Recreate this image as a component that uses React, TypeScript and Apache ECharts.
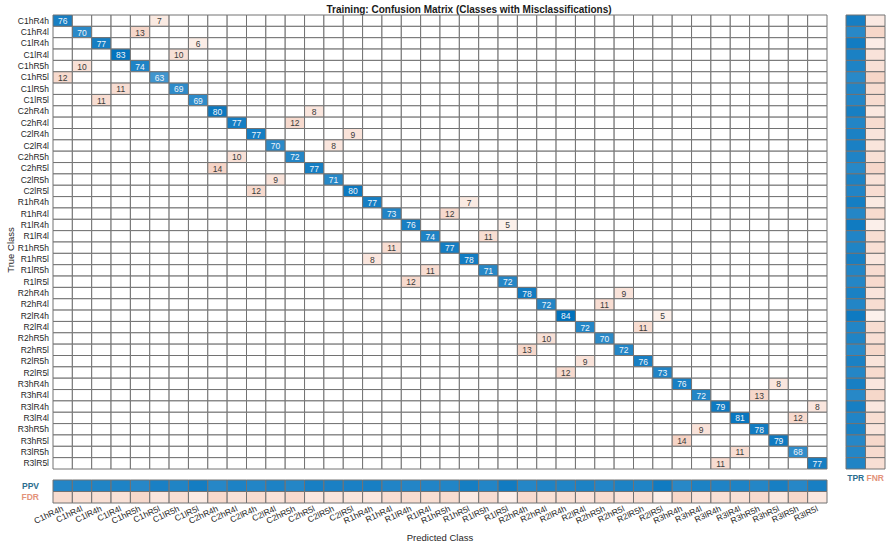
import { useEffect, useRef } from "react";
import * as echarts from "echarts";

// Class names (rows = true class, columns = predicted class)
const classes = [
  "C1hR4h", "C1hR4l", "C1lR4h", "C1lR4l", "C1hR5h", "C1hR5l", "C1lR5h", "C1lR5l",
  "C2hR4h", "C2hR4l", "C2lR4h", "C2lR4l", "C2hR5h", "C2hR5l", "C2lR5h", "C2lR5l",
  "R1hR4h", "R1hR4l", "R1lR4h", "R1lR4l", "R1hR5h", "R1hR5l", "R1lR5h", "R1lR5l",
  "R2hR4h", "R2hR4l", "R2lR4h", "R2lR4l", "R2hR5h", "R2hR5l", "R2lR5h", "R2lR5l",
  "R3hR4h", "R3hR4l", "R3lR4h", "R3lR4l", "R3hR5h", "R3hR5l", "R3lR5h", "R3lR5l",
];

// Correct predictions per class (diagonal)
const diagValues = [
  76, 70, 77, 83, 74, 63, 69, 69,
  80, 77, 77, 70, 72, 77, 71, 80,
  77, 73, 76, 74, 77, 78, 71, 72,
  78, 72, 84, 72, 70, 72, 76, 73,
  76, 72, 79, 81, 78, 79, 68, 77,
];

// The single misclassified column for each true class, and its count
const offCols = [
  5, 4, 7, 6, 1, 0, 3, 2,
  13, 12, 15, 14, 9, 8, 11, 10,
  21, 20, 23, 22, 17, 16, 19, 18,
  29, 28, 31, 30, 25, 24, 27, 26,
  37, 36, 39, 38, 33, 32, 35, 34,
];
const offValues = [
  7, 13, 6, 10, 10, 12, 11, 11,
  8, 12, 9, 8, 10, 14, 9, 12,
  7, 12, 5, 11, 11, 8, 11, 12,
  9, 11, 5, 11, 10, 13, 9, 12,
  8, 13, 8, 12, 9, 14, 11, 11,
];

const rowSummaryLabels = ["TPR", "FNR"];
const colSummaryLabels = ["PPV", "FDR"];

const DIAG_RGB = [0, 114, 189];
const OFF_RGB = [217, 83, 25];
const OFF_GAIN = 1.5;
const FONT = "'Liberation Sans', Arial, Helvetica, sans-serif";
const GRID_LINE = "#727272";

function shade(rgb: number[], t: number): string {
  const k = Math.min(1, Math.max(0, t));
  const c = rgb.map((v) => Math.round(255 - k * (255 - v)));
  return `rgb(${c[0]},${c[1]},${c[2]})`;
}

type Cell = { value: number[]; fill: string; text: string; textColor: string };

// Draws one matrix cell (filled rect with border and optional count)
function cellRenderer(cells: Cell[]) {
  return (params: any, api: any) => {
    const cell = cells[params.dataIndex];
    const c = api.coord([api.value(0), api.value(1)]);
    const s = api.size([1, 1]);
    const children: any[] = [
      {
        type: "rect",
        shape: { x: c[0] - s[0] / 2, y: c[1] - s[1] / 2, width: s[0], height: s[1] },
        style: { fill: cell.fill, stroke: GRID_LINE, lineWidth: 1 },
      },
    ];
    if (cell.text) {
      children.push({
        type: "text",
        style: {
          text: cell.text,
          x: c[0],
          y: c[1] + 0.5,
          align: "center",
          verticalAlign: "middle",
          fill: cell.textColor,
          fontSize: 8.5,
          fontFamily: FONT,
        },
      });
    }
    return { type: "group", children };
  };
}

function buildOption() {
  const n = classes.length;
  const maxVal = Math.max(...diagValues, ...offValues);

  const mainCells: Cell[] = [];
  for (let i = 0; i < n; i++) {
    for (let j = 0; j < n; j++) {
      let v = 0;
      if (i === j) v = diagValues[i];
      else if (offCols[i] === j) v = offValues[i];
      const isDiag = i === j;
      mainCells.push({
        value: [j, i, v],
        fill:
          v === 0
            ? "#ffffff"
            : isDiag
            ? shade(DIAG_RGB, v / maxVal)
            : shade(OFF_RGB, (v / maxVal) * OFF_GAIN),
        text: v === 0 ? "" : String(v),
        textColor: isDiag ? "#eef4fb" : "#3a3a3a",
      });
    }
  }

  // Row summary: true positive / false negative rates
  const rowCells: Cell[] = [];
  for (let i = 0; i < n; i++) {
    const total = diagValues[i] + offValues[i];
    const tpr = diagValues[i] / total;
    const fnr = offValues[i] / total;
    rowCells.push({ value: [0, i, tpr], fill: shade(DIAG_RGB, tpr), text: "", textColor: "" });
    rowCells.push({ value: [1, i, fnr], fill: shade(OFF_RGB, fnr * OFF_GAIN), text: "", textColor: "" });
  }

  // Column summary: positive predictive value / false discovery rate
  const colCells: Cell[] = [];
  for (let j = 0; j < n; j++) {
    let colOff = 0;
    for (let i = 0; i < n; i++) if (i !== j && offCols[i] === j) colOff += offValues[i];
    const total = diagValues[j] + colOff;
    const ppv = diagValues[j] / total;
    const fdr = colOff / total;
    colCells.push({ value: [j, 0, ppv], fill: shade(DIAG_RGB, ppv), text: "", textColor: "" });
    colCells.push({ value: [j, 1, fdr], fill: shade(OFF_RGB, fdr * OFF_GAIN), text: "", textColor: "" });
  }

  const hiddenAxis = {
    axisLine: { show: false },
    axisTick: { show: false },
    splitLine: { show: false },
  };

  const cellSeries = (cells: Cell[], axisIndex: number) => ({
    type: "custom",
    xAxisIndex: axisIndex,
    yAxisIndex: axisIndex,
    encode: { x: 0, y: 1 },
    data: cells.map((c) => c.value),
    renderItem: cellRenderer(cells),
    silent: true,
  });

  return {
    animation: false,
    textStyle: { fontFamily: FONT },
    grid: [
      { left: 53, top: 15, width: 774, height: 454 },
      { left: 846, top: 15, width: 39, height: 454 },
      { left: 53, top: 480, width: 774, height: 23 },
    ],
    xAxis: [
      { gridIndex: 0, type: "category", data: classes, show: false },
      {
        gridIndex: 1,
        type: "category",
        data: rowSummaryLabels,
        ...hiddenAxis,
        axisLabel: {
          interval: 0,
          margin: 4,
          fontSize: 8.5,
          fontWeight: "bold",
          fontFamily: FONT,
          color: (v: string) => (v === "TPR" ? "#2b6d8f" : "#e3937a"),
        },
      },
      {
        gridIndex: 2,
        type: "category",
        data: classes,
        ...hiddenAxis,
        axisLabel: {
          interval: 0,
          rotate: 25,
          margin: 5,
          fontSize: 8.5,
          fontFamily: FONT,
          color: "#262626",
        },
      },
    ],
    yAxis: [
      {
        gridIndex: 0,
        type: "category",
        data: classes,
        inverse: true,
        ...hiddenAxis,
        axisLabel: { interval: 0, margin: 4, fontSize: 8.5, fontFamily: FONT, color: "#262626" },
      },
      { gridIndex: 1, type: "category", data: classes, inverse: true, show: false },
      {
        gridIndex: 2,
        type: "category",
        data: colSummaryLabels,
        inverse: true,
        ...hiddenAxis,
        axisLabel: {
          interval: 0,
          margin: 14,
          fontSize: 8.5,
          fontWeight: "bold",
          fontFamily: FONT,
          color: (v: string) => (v === "PPV" ? "#2b6d8f" : "#e3937a"),
        },
      },
    ],
    series: [cellSeries(mainCells, 0), cellSeries(rowCells, 1), cellSeries(colCells, 2)],
    graphic: [
      {
        type: "text",
        x: 469,
        y: 9,
        style: {
          text: "Training: Confusion Matrix (Classes with Misclassifications)",
          fontSize: 10,
          fontWeight: "bold",
          fontFamily: FONT,
          fill: "#1a1a1a",
          textAlign: "center",
          textVerticalAlign: "middle",
        },
      },
      {
        type: "text",
        x: 440,
        y: 537,
        style: {
          text: "Predicted Class",
          fontSize: 9.5,
          fontFamily: FONT,
          fill: "#262626",
          textAlign: "center",
          textVerticalAlign: "middle",
        },
      },
      {
        type: "text",
        x: 10,
        y: 250,
        rotation: Math.PI / 2,
        style: {
          text: "True Class",
          fontSize: 9.5,
          fontFamily: FONT,
          fill: "#262626",
          textAlign: "center",
          textVerticalAlign: "middle",
        },
      },
    ],
  };
}

export default function App() {
  const ref = useRef<HTMLDivElement>(null);
  useEffect(() => {
    const chart = echarts.init(ref.current!, undefined, { renderer: "svg" });
    chart.setOption(buildOption() as any);
    return () => chart.dispose();
  }, []);
  return (
    <div
      ref={ref}
      style={{ position: "fixed", left: 0, top: 0, width: 891, height: 546, background: "#ffffff" }}
    />
  );
}
